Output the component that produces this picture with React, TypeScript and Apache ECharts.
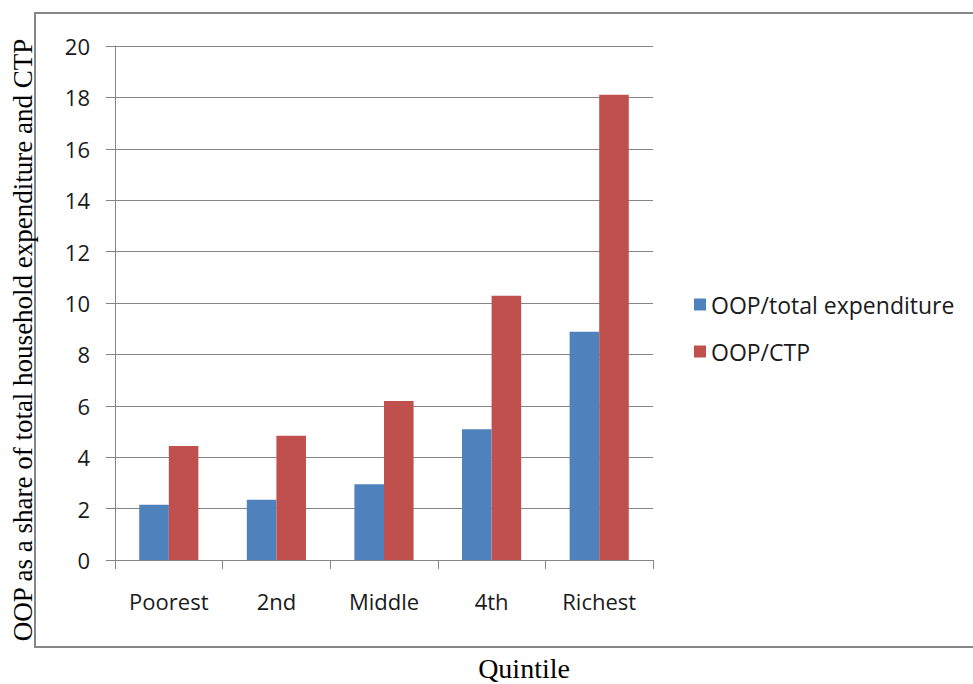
import React, { useEffect, useRef } from "react";
import * as echarts from "echarts";

const categories = ["Poorest", "2nd", "Middle", "4th", "Richest"];
const oopTotalExpenditure = [2.15, 2.34, 2.95, 5.09, 8.88];
const oopCtp = [4.44, 4.83, 6.19, 10.28, 18.1];
const seriesNames = ["OOP/total expenditure", "OOP/CTP"];
const yTitle = "OOP as a share of total household expenditure and CTP";
const xTitle = "Quintile";

export default function App() {
  const ref = useRef<HTMLDivElement>(null);
  useEffect(() => {
    if (!ref.current) return;
    const chart = echarts.init(ref.current, undefined, { renderer: "svg" });
    const sans = "'Open Sans', sans-serif";
    const serif = "'Liberation Serif', 'Times New Roman', serif";
    chart.setOption({
      animation: false,
      backgroundColor: "#ffffff",
      grid: { left: 115, top: 46, width: 538, height: 514, containLabel: false },
      legend: {
        orient: "vertical",
        left: 689,
        top: 288,
        itemWidth: 12,
        itemHeight: 12,
        itemGap: 24,
        icon: "rect",
        data: seriesNames,
        textStyle: { fontFamily: sans, fontSize: 23, lineHeight: 23, color: "#1a1a1a" },
      },
      xAxis: {
        type: "category",
        data: categories,
        axisLine: { lineStyle: { color: "#868686", width: 1 } },
        axisTick: { show: true, length: 9, alignWithLabel: false, lineStyle: { color: "#868686" } },
        axisLabel: { fontFamily: sans, fontSize: 22, color: "#1a1a1a", margin: 30 },
      },
      yAxis: {
        type: "value",
        min: 0,
        max: 20,
        interval: 2,
        axisLine: { show: true, lineStyle: { color: "#868686", width: 1 } },
        axisTick: { show: true, length: 9, lineStyle: { color: "#868686" } },
        axisLabel: { fontFamily: sans, fontSize: 22, color: "#1a1a1a", margin: 25 },
        splitLine: { show: true, lineStyle: { color: "#868686", width: 1 } },
      },
      series: [
        {
          name: seriesNames[0],
          type: "bar",
          data: oopTotalExpenditure,
          itemStyle: { color: "#4F81BD" },
          barGap: "0%",
          barCategoryGap: "45%",
        },
        {
          name: seriesNames[1],
          type: "bar",
          data: oopCtp,
          itemStyle: { color: "#C0504D" },
          barGap: "0%",
          barCategoryGap: "45%",
        },
      ],
      graphic: [
        {
          type: "rect",
          shape: { x: 35, y: 13, width: 950, height: 634 },
          style: { fill: "none", stroke: "#868686", lineWidth: 2 },
          silent: true,
          z: -1,
        },
        {
          type: "text",
          x: 23,
          y: 340,
          rotation: Math.PI / 2,
          style: {
            text: yTitle,
            fontFamily: serif,
            fontSize: 27,
            fill: "#000000",
            align: "center",
            verticalAlign: "middle",
          },
        },
        {
          type: "text",
          x: 524,
          y: 668,
          style: {
            text: xTitle,
            fontFamily: serif,
            fontSize: 28,
            fill: "#000000",
            align: "center",
            verticalAlign: "middle",
          },
        },
      ],
    });
    return () => chart.dispose();
  }, []);
  return (
    <div
      ref={ref}
      style={{ position: "absolute", left: 0, top: 0, width: 973, height: 684, background: "#fff" }}
    />
  );
}
